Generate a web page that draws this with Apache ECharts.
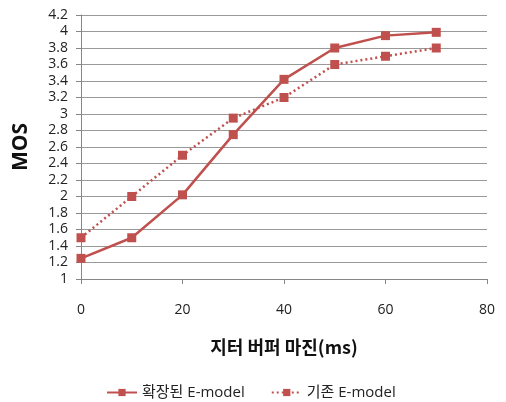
<!DOCTYPE html>
<html><head><meta charset="utf-8">
<script src="https://cdn.jsdelivr.net/npm/echarts@6/dist/echarts.min.js"></script>
<style>html,body{margin:0;padding:0;background:#fff}#c{width:506px;height:402px}</style>
</head><body><div id="c"></div>
<script>
var xValues = [0, 10, 20, 30, 40, 50, 60, 70];
var extended = [1.25, 1.5, 2.02, 2.75, 3.42, 3.8, 3.95, 3.99];
var baseline = [1.5, 2.0, 2.5, 2.95, 3.2, 3.6, 3.7, 3.8];
var seriesNames = ['확장된 E-model', '기존 E-model'];
var xTitle = '지터 버퍼 마진(ms)';
var yTitle = 'MOS';
function pairs(v){ return xValues.map(function(x,i){ return [x, v[i]]; }); }
var font = "'Open Sans','Noto Sans CJK KR'";
var color = '#C0504D';
var chart = echarts.init(document.getElementById('c'));
chart.setOption({
  animation: false,
  textStyle: {fontFamily: font},
  grid: {left: 81, right: 19, top: 15, bottom: 123},
  legend: {
    top: 380, left: 101, itemWidth: 30, itemHeight: 9, itemGap: 26,
    textStyle: {fontFamily: font, fontSize: 15, color: '#222'},
    data: seriesNames
  },
  xAxis: {
    type: 'value', min: 0, max: 80, interval: 20,
    name: xTitle, nameLocation: 'middle', nameGap: 59,
    nameTextStyle: {fontFamily: "'Noto Sans CJK KR'", fontSize: 18, fontWeight: 'bold', color: '#111'},
    axisLine: {show: true, lineStyle: {color: '#868686'}},
    axisTick: {show: true, length: 5, lineStyle: {color: '#868686'}},
    axisLabel: {margin: 24, fontSize: 14, color: '#222', fontFamily: font},
    splitLine: {show: false}
  },
  yAxis: {
    type: 'value', min: 1, max: 4.2, interval: 0.2,
    name: yTitle, nameLocation: 'middle', nameGap: 49, nameRotate: 90,
    nameTextStyle: {fontFamily: "'Open Sans'", fontSize: 21, fontWeight: 'bold', color: '#111'},
    axisLine: {show: true, lineStyle: {color: '#868686'}},
    axisTick: {show: true, length: 5, lineStyle: {color: '#868686'}},
    axisLabel: {margin: 13, fontSize: 14, color: '#222', fontFamily: font,
      formatter: function(v){ return String(Math.round(v*10)/10); }},
    splitLine: {show: true, lineStyle: {color: '#999999', width: 1}}
  },
  series: [
    {name: seriesNames[0], type: 'line', data: pairs(extended),
     symbol: 'rect', symbolSize: 9, itemStyle: {color: color},
     lineStyle: {color: color, width: 2.5, type: 'solid'}},
    {name: seriesNames[1], type: 'line', data: pairs(baseline),
     symbol: 'rect', symbolSize: 9, itemStyle: {color: color},
     lineStyle: {color: color, width: 2.5, type: [2, 3]}}
  ]
});
</script></body></html>
